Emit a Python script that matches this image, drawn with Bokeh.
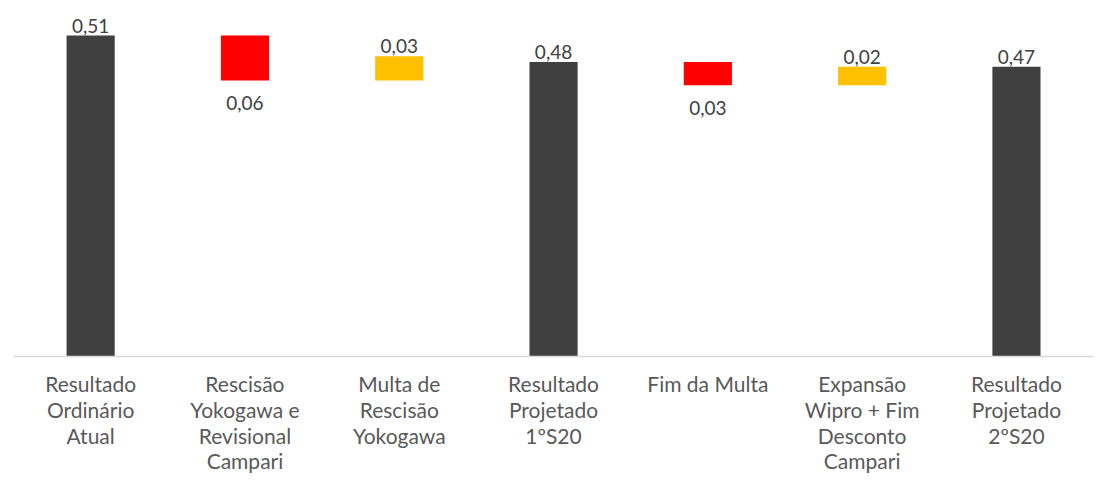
from bokeh.plotting import figure
from bokeh.models import Range1d, Span, ColumnDataSource
from bokeh.embed import file_html
from bokeh.resources import INLINE
from bokeh.core.properties import value

categories = [
    "Resultado\nOrdinário\nAtual",
    "Rescisão\nYokogawa e\nRevisional\nCampari",
    "Multa de\nRescisão\nYokogawa",
    "Resultado\nProjetado\n1ºS20",
    "Fim da Multa",
    "Expansão\nWipro + Fim\nDesconto\nCampari",
    "Resultado\nProjetado\n2ºS20",
]
values = [0.51, -0.056, 0.030, 0.477, -0.029, 0.023, 0.471]
kinds = ["total", "neg", "pos", "total", "neg", "pos", "total"]
axis_min = 0.11

colors = {"total": "#404040", "neg": "#FF0000", "pos": "#FFC000"}

# waterfall geometry
bottoms, tops, cols = [], [], []
running = 0.0
for v, k in zip(values, kinds):
    if k == "total":
        b, t = axis_min, v
        running = v
    else:
        b = running
        t = running + v
        running = t
    bottoms.append(min(b, t))
    tops.append(max(b, t))
    cols.append(colors[k])

xs = list(range(len(categories)))
src = ColumnDataSource(dict(x=xs, bottom=bottoms, top=tops, color=cols))

k_px = 802.5  # pixels per unit
W, H = 1093, 475
left = 13
base_px = 356
p = figure(width=W, height=H, output_backend="svg", toolbar_location=None,
           min_border_left=left, min_border_right=0, min_border_top=0, min_border_bottom=0)
p.x_range = Range1d(-0.5, -0.5 + (W - left) / 154.3)
p.y_range = Range1d(axis_min - (H - base_px) / k_px, axis_min + base_px / k_px)
p.axis.visible = False
p.grid.visible = False
p.outline_line_color = None
p.background_fill_color = "white"

p.vbar(x="x", bottom="bottom", top="top", width=0.312, color="color",
       line_color=None, source=src)

p.add_layout(Span(location=axis_min, dimension="width", line_color="#D9D9D9", line_width=1.5))

# value labels
lab_up = dict(x=[], y=[], t=[])
lab_dn = dict(x=[], y=[], t=[])
for x, v, k, b, t in zip(xs, values, kinds, bottoms, tops):
    s = ("%.2f" % abs(v)).replace(".", ",")
    if k == "neg":
        lab_dn["x"].append(x); lab_dn["y"].append(b); lab_dn["t"].append(s)
    else:
        lab_up["x"].append(x); lab_up["y"].append(t); lab_up["t"].append(s)

p.text(x="x", y="y", text="t", source=ColumnDataSource(lab_up), text_align="center",
       text_baseline="alphabetic", y_offset=-10, text_font=value("Lato"),
       text_font_size="19px", text_color="#404040")
p.text(x="x", y="y", text="t", source=ColumnDataSource(lab_dn), text_align="center",
       text_baseline="alphabetic", y_offset=23, text_font=value("Lato"),
       text_font_size="19px", text_color="#404040")

# category labels
p.text(x=xs, y=[axis_min] * len(xs), text=categories, text_align="center",
       text_baseline="top", y_offset=14.5, text_font=value("Lato"),
       text_font_size="21px", text_color="#595959", text_line_height=1.032)

open("out.html", "w").write(file_html(p, INLINE))
